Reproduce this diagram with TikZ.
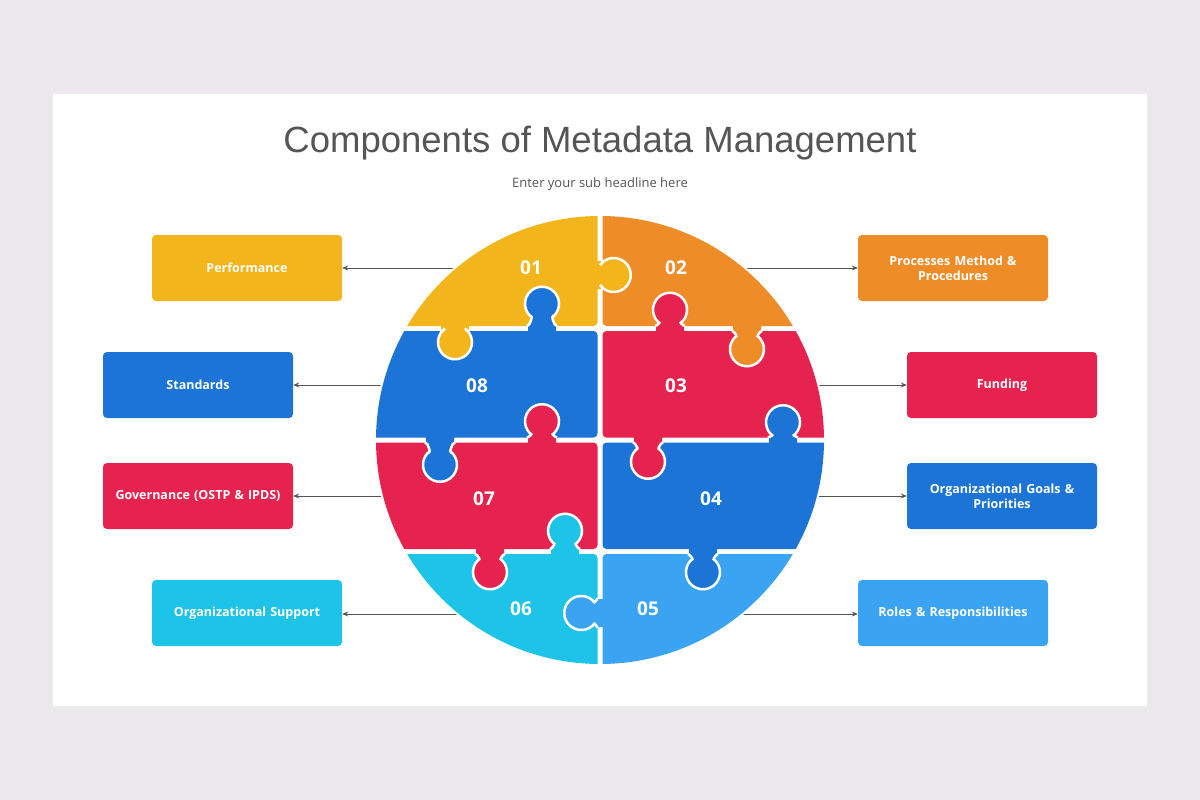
\documentclass[tikz,border=0pt]{standalone}
\usepackage{fontspec}
\setmainfont{Open Sans}
\newfontfamily\titlefont{Liberation Sans}
\usetikzlibrary{arrows.meta}
\definecolor{cyel}{HTML}{F2B51C}
\definecolor{cora}{HTML}{EE8C28}
\definecolor{cred}{HTML}{E6234F}
\definecolor{cblu}{HTML}{1B74D6}
\definecolor{ccya}{HTML}{1EC3E8}
\definecolor{clbl}{HTML}{3AA4F2}
\definecolor{cbg}{HTML}{EBE9EB}
\definecolor{ctxt}{HTML}{555555}
\newcommand\pzknob[5]{%
 \begin{scope}[shift={(#1,#2)},rotate=#3]
 \fill[#5] (-14,-4) -- (-14,2.5) to[out=0,in=-90] (-10,{#4-13}) arc[start angle=234,end angle=-54,radius=17] to[out=-90,in=180] (14,2.5) -- (14,-4) -- cycle;
 \draw[white,line width=2.5] (-15,2.5) to[out=0,in=-90] (-10,{#4-13}) arc[start angle=234,end angle=-54,radius=17] to[out=-90,in=180] (15,2.5);
 \end{scope}}
\begin{document}
\begin{tikzpicture}[x=1pt,y=-1pt,
  box/.style={rounded corners=4pt,minimum width=190pt,minimum height=66pt,text width=175pt,align=center,text=white,font=\fontsize{12.5}{15}\selectfont\bfseries,inner sep=0pt},
  num/.style={text=white,font=\fontsize{19}{20}\selectfont\bfseries},
  arr/.style={draw=ctxt,line width=1pt,-{Stealth[length=6pt,width=5pt]}},
  cell/.style={rounded corners=4pt}]
\fill[cbg] (0,0) rectangle (1200,800);
\fill[black!8] (51,92) rectangle (1149,709);
\fill[white] (53,94) rectangle (1147,706);
\useasboundingbox (0,0) rectangle (1200,800);
\node[text=ctxt,font=\titlefont\fontsize{36.5}{40}\selectfont] (title) at (600,143) {Components of Metadata Management};
\node[text=ctxt,font=\fontsize{13}{15}\selectfont] (sub) at (600,184) {Enter your sub headline here};
\coordinate (s1) at (458,268);
\coordinate (s8) at (383,385);
\coordinate (s7) at (383,496);
\coordinate (s6) at (458,614);
\coordinate (s2) at (742,268);
\coordinate (s3) at (817,385);
\coordinate (s4) at (817,496);
\coordinate (s5) at (742,614);
\node[box,fill=cyel] (b1) at (247,268) {Performance};
\node[box,fill=cblu] (b8) at (198,385) {Standards};
\node[box,fill=cred] (b7) at (198,496) {Governance (OSTP \& IPDS)};
\node[box,fill=ccya] (b6) at (247,613) {Organizational Support};
\node[box,fill=cora] (b2) at (953,268) {Processes Method \&\\ Procedures};
\node[box,fill=cred] (b3) at (1002,385) {Funding};
\node[box,fill=cblu] (b4) at (1002,496) {Organizational Goals \&\\ Priorities};
\node[box,fill=clbl] (b5) at (953,613) {Roles \& Responsibilities};
\draw[arr] (s1) -- (b1.east|-s1);
\draw[arr] (s8) -- (b8.east|-s8);
\draw[arr] (s7) -- (b7.east|-s7);
\draw[arr] (s6) -- (b6.east|-s6);
\draw[arr] (s2) -- (b2.west|-s2);
\draw[arr] (s3) -- (b3.west|-s3);
\draw[arr] (s4) -- (b4.west|-s4);
\draw[arr] (s5) -- (b5.west|-s5);
\fill[white] (600,440) circle[radius=226];
\begin{scope}
\clip (600,440) circle[radius=224];
\fill[cell,cyel] (370,212) rectangle (597.5,326);
\fill[cell,cora] (602.5,212) rectangle (830,326);
\fill[cell,cblu] (370,331) rectangle (597.5,437.5);
\fill[cell,cred] (602.5,331) rectangle (830,437.5);
\fill[cell,cred] (370,442.5) rectangle (597.5,549);
\fill[cell,cblu] (602.5,442.5) rectangle (830,549);
\fill[cell,ccya] (370,554) rectangle (597.5,668);
\fill[cell,clbl] (602.5,554) rectangle (830,668);
\pzknob{600}{275}{90}{13}{cyel}
\pzknob{542}{328.5}{180}{24}{cblu}
\pzknob{455}{328.5}{0}{13}{cyel}
\pzknob{670}{328.5}{180}{18}{cred}
\pzknob{747}{328.5}{0}{20}{cora}
\pzknob{542}{440}{180}{18}{cred}
\pzknob{783}{440}{180}{17}{cblu}
\pzknob{440}{440}{0}{24}{cblu}
\pzknob{648}{440}{0}{21}{cred}
\pzknob{565}{551.5}{180}{20}{ccya}
\pzknob{490}{551.5}{0}{20}{cred}
\pzknob{703}{551.5}{0}{20}{cblu}
\pzknob{600}{613}{-90}{18}{clbl}
\end{scope}
\node[num] (n1) at (531,268) {01};
\node[num] (n2) at (676,268) {02};
\node[num] (n8) at (477,386) {08};
\node[num] (n3) at (676,386) {03};
\node[num] (n7) at (484,499) {07};
\node[num] (n4) at (711,499) {04};
\node[num] (n6) at (521,609) {06};
\node[num] (n5) at (648,609) {05};
\end{tikzpicture}
\end{document}
